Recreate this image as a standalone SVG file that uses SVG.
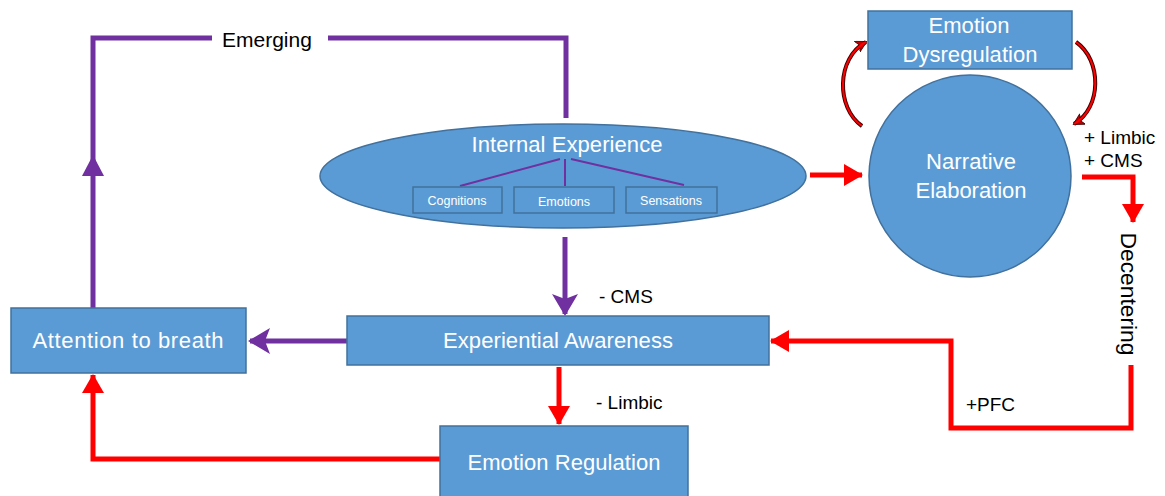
<svg xmlns="http://www.w3.org/2000/svg" width="1165" height="496" viewBox="0 0 1165 496">
<style>
.box{fill:#5B9BD5;stroke:#41719C;stroke-width:1.5}
.sub{fill:#5B9BD5;stroke:#41719C;stroke-width:1.5}
.t{font-family:"Liberation Sans",Arial,sans-serif;fill:#fff;font-size:22px;text-anchor:middle}
.ts{font-family:"Liberation Sans",Arial,sans-serif;fill:#fff;font-size:12.5px;text-anchor:middle}
.lbl{font-family:"Liberation Sans",Arial,sans-serif;fill:#000;font-size:19px}
.pu{fill:none;stroke:#7030A0;stroke-width:5}
.rd{fill:none;stroke:#FF0000;stroke-width:5}
.thin{fill:none;stroke:#7030A0;stroke-width:2}
</style>
<defs>
<marker id="ap" markerUnits="userSpaceOnUse" markerWidth="26" markerHeight="28" refX="20" refY="13" orient="auto">
<path d="M0,0 L22,13 L0,26 L5,13 Z" fill="#7030A0"/>
</marker>
<marker id="ar" markerUnits="userSpaceOnUse" markerWidth="22" markerHeight="24" refX="18" refY="11" orient="auto">
<path d="M0,0 L19,11 L0,22 Z" fill="#FF0000"/>
</marker>
<marker id="arc" markerUnits="userSpaceOnUse" markerWidth="14" markerHeight="14" refX="10" refY="6" orient="auto">
<path d="M0,0 L11,6 L0,12 L3,6 Z" fill="#C00000" stroke="#400000" stroke-width="0.8"/>
</marker>
</defs>
<rect width="1165" height="496" fill="#fff"/>

<g id="connectors">
<path class="pu" d="M93,308 V38 H212"/>
<path class="pu" d="M328,38 H566 V118"/>
<path d="M82,176 L93,155 L104,176 Z" fill="#7030A0"/>
<path class="pu" d="M565,237 V314" marker-end="url(#ap)"/>
<path class="pu" d="M347,341 H250" marker-end="url(#ap)"/>
<path class="rd" d="M559,367 V424" marker-end="url(#ar)"/>
<path class="rd" d="M440,459 H93 V375" marker-end="url(#ar)"/>
<path class="rd" d="M810,175 H862" marker-end="url(#ar)"/>
<path class="rd" d="M1082,177 H1133 V222" marker-end="url(#ar)"/>
<path class="rd" d="M1131,365 V428 H951 V341 H771" marker-end="url(#ar)"/>
<path d="M862,126 C836,108 836,58 866,42" fill="none" stroke="#400000" stroke-width="4" marker-end="url(#arc)"/>
<path d="M862,126 C836,108 836,58 866,42" fill="none" stroke="#FF0000" stroke-width="2"/>
<path d="M1076,42 C1102,60 1102,108 1074,124" fill="none" stroke="#400000" stroke-width="4" marker-end="url(#arc)"/>
<path d="M1076,42 C1102,60 1102,108 1074,124" fill="none" stroke="#FF0000" stroke-width="2"/>
</g>

<g id="labels">
<text class="lbl" x="222" y="47" style="font-size:21px">Emerging</text>
<text class="lbl" x="599" y="303">- CMS</text>
<text class="lbl" x="596" y="409">- Limbic</text>
<text class="lbl" x="966" y="411">+PFC</text>
<text class="lbl" x="1084" y="144">+ Limbic</text>
<text class="lbl" x="1084" y="167">+ CMS</text>
<text class="lbl" transform="translate(1121,294) rotate(90)" text-anchor="middle" style="font-size:22px" textLength="123" lengthAdjust="spacingAndGlyphs">Decentering</text>
</g>

<g id="internal-experience">
<ellipse cx="563" cy="176" rx="243" ry="52" class="box"/>
<text class="t" x="567" y="152" textLength="191">Internal Experience</text>
<path class="thin" d="M560,159 L460,186 M565,159 V186 M571,159 L684,185"/>
</g>
<g id="cognitions">
<rect class="sub" x="413" y="187" width="89" height="26"/>
<text class="ts" x="457" y="205">Cognitions</text>
</g>
<g id="emotions">
<rect class="sub" x="514" y="187" width="100" height="26"/>
<text class="ts" x="564" y="206">Emotions</text>
</g>
<g id="sensations">
<rect class="sub" x="626" y="187" width="91" height="26"/>
<text class="ts" x="671" y="205">Sensations</text>
</g>

<g id="emotion-dysregulation">
<rect class="box" x="868" y="11" width="204" height="58"/>
<text class="t" x="969" y="33" textLength="81">Emotion</text>
<text class="t" x="970" y="62" textLength="135">Dysregulation</text>
</g>

<g id="narrative-elaboration">
<circle cx="970" cy="176" r="101" class="box"/>
<text class="t" x="971" y="169" textLength="90">Narrative</text>
<text class="t" x="971" y="198" textLength="111">Elaboration</text>
</g>

<g id="experiential-awareness">
<rect class="box" x="347" y="316" width="422" height="49"/>
<text class="t" x="558" y="348" textLength="230">Experiential Awareness</text>
</g>

<g id="attention-to-breath">
<rect class="box" x="11" y="308" width="235" height="65"/>
<text class="t" x="128" y="348" textLength="191">Attention to breath</text>
</g>

<g id="emotion-regulation">
<rect class="box" x="440" y="426" width="248" height="80"/>
<text class="t" x="564" y="470" textLength="193">Emotion Regulation</text>
</g>
</svg>
